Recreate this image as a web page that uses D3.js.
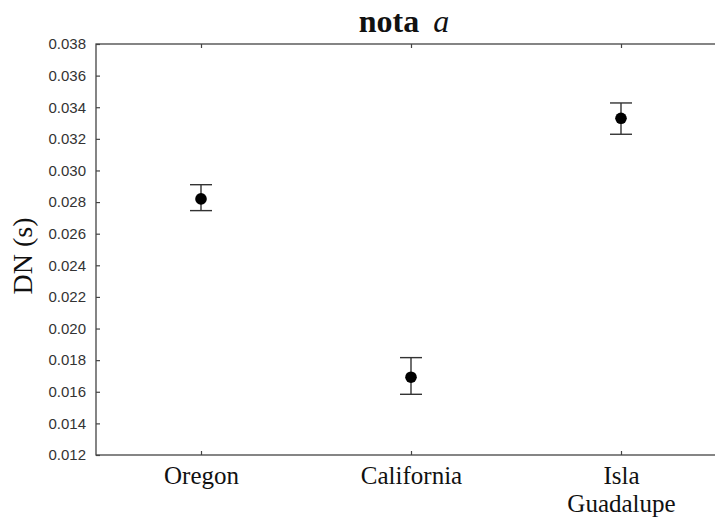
<!DOCTYPE html>
<html><head><meta charset="utf-8">
<script src="https://cdn.jsdelivr.net/npm/d3@7"></script>
<style>body{margin:0;background:#fff}svg{display:block}</style>
</head><body>
<svg id="c" width="715" height="518"></svg>
<script>
const categories = ["Oregon", "California", "Isla Guadalupe"];
const xTickLines = [["Oregon"], ["California"], ["Isla", "Guadalupe"]];
const means = [0.0282, 0.01692, 0.0333];
const upper = [0.0291, 0.01816, 0.03427];
const lower = [0.02746, 0.01584, 0.03229];
const yTicks = [0.012,0.014,0.016,0.018,0.020,0.022,0.024,0.026,0.028,0.030,0.032,0.034,0.036,0.038];
const titleMain = "nota";
const titleItalic = "a";
const yLabel = "DN (s)";

const svg = d3.select("#c");
const L = 96, R = 726, T = 44, B = 455;
const x = d3.scalePoint().domain(categories).range([L, R]).padding(0.5);
const y = d3.scaleLinear().domain([0.012, 0.038]).range([B, T]);
const axisCol = "#444";

// frame
svg.append("rect").attr("x", L).attr("y", T).attr("width", R - L).attr("height", B - T)
  .attr("fill", "none").attr("stroke", axisCol).attr("stroke-width", 1.3);

// y axis
const ya = svg.append("g").attr("transform", `translate(${L},0)`)
  .call(d3.axisLeft(y).tickValues(yTicks).tickFormat(d3.format(".3f")).tickSizeInner(-4).tickSizeOuter(0).tickPadding(10));
ya.select(".domain").remove();
ya.selectAll(".tick line").attr("stroke", axisCol).attr("stroke-width", 1.2);
ya.selectAll(".tick text").attr("font-family", "Liberation Sans, Arial, sans-serif").attr("font-size", 15).attr("fill", "#333");

// x axis bottom
const xa = svg.append("g").attr("transform", `translate(0,${B})`)
  .call(d3.axisBottom(x).tickSizeInner(-4).tickSizeOuter(0));
xa.select(".domain").remove();
xa.selectAll(".tick line").attr("stroke", axisCol).attr("stroke-width", 1.2);
xa.selectAll(".tick text").each(function(d, i) {
  const t = d3.select(this);
  t.text(null).attr("font-family", "Liberation Serif, Times New Roman, serif").attr("font-size", 25).attr("fill", "#111")
    .attr("dy", null).attr("y", 29);
  xTickLines[i].forEach((s, j) => t.append("tspan").attr("x", 0).attr("dy", j === 0 ? 0 : 28).text(s));
});
// x axis top ticks
const xt = svg.append("g").attr("transform", `translate(0,${T})`)
  .call(d3.axisTop(x).tickSizeInner(-4).tickSizeOuter(0).tickFormat(""));
xt.select(".domain").remove();
xt.selectAll(".tick line").attr("stroke", axisCol).attr("stroke-width", 1.2);

// error bars
const g = svg.append("g");
const cap = 11;
categories.forEach((c, i) => {
  const cx = x(c);
  g.append("line").attr("x1", cx).attr("x2", cx).attr("y1", y(upper[i])).attr("y2", y(lower[i]))
    .attr("stroke", "#333").attr("stroke-width", 1.4);
  [upper[i], lower[i]].forEach(v => g.append("line").attr("x1", cx - cap).attr("x2", cx + cap)
    .attr("y1", y(v)).attr("y2", y(v)).attr("stroke", "#333").attr("stroke-width", 1.4));
  g.append("circle").attr("cx", cx).attr("cy", y(means[i])).attr("r", 5.8).attr("fill", "#000");
});

// title
const tt = svg.append("text").attr("x", 404).attr("y", 32).attr("text-anchor", "middle")
  .attr("font-family", "Liberation Serif, Times New Roman, serif").attr("font-size", 32).attr("fill", "#111");
tt.append("tspan").attr("font-weight", "bold").text(titleMain);
tt.append("tspan").attr("dx", 14).attr("font-style", "italic").attr("font-weight", "normal").text(titleItalic);

// y label
svg.append("text").attr("transform", "translate(32,256) rotate(-90)").attr("text-anchor", "middle")
  .attr("font-family", "Liberation Serif, Times New Roman, serif").attr("font-size", 28).attr("fill", "#111")
  .text(yLabel);
</script>
</body></html>
